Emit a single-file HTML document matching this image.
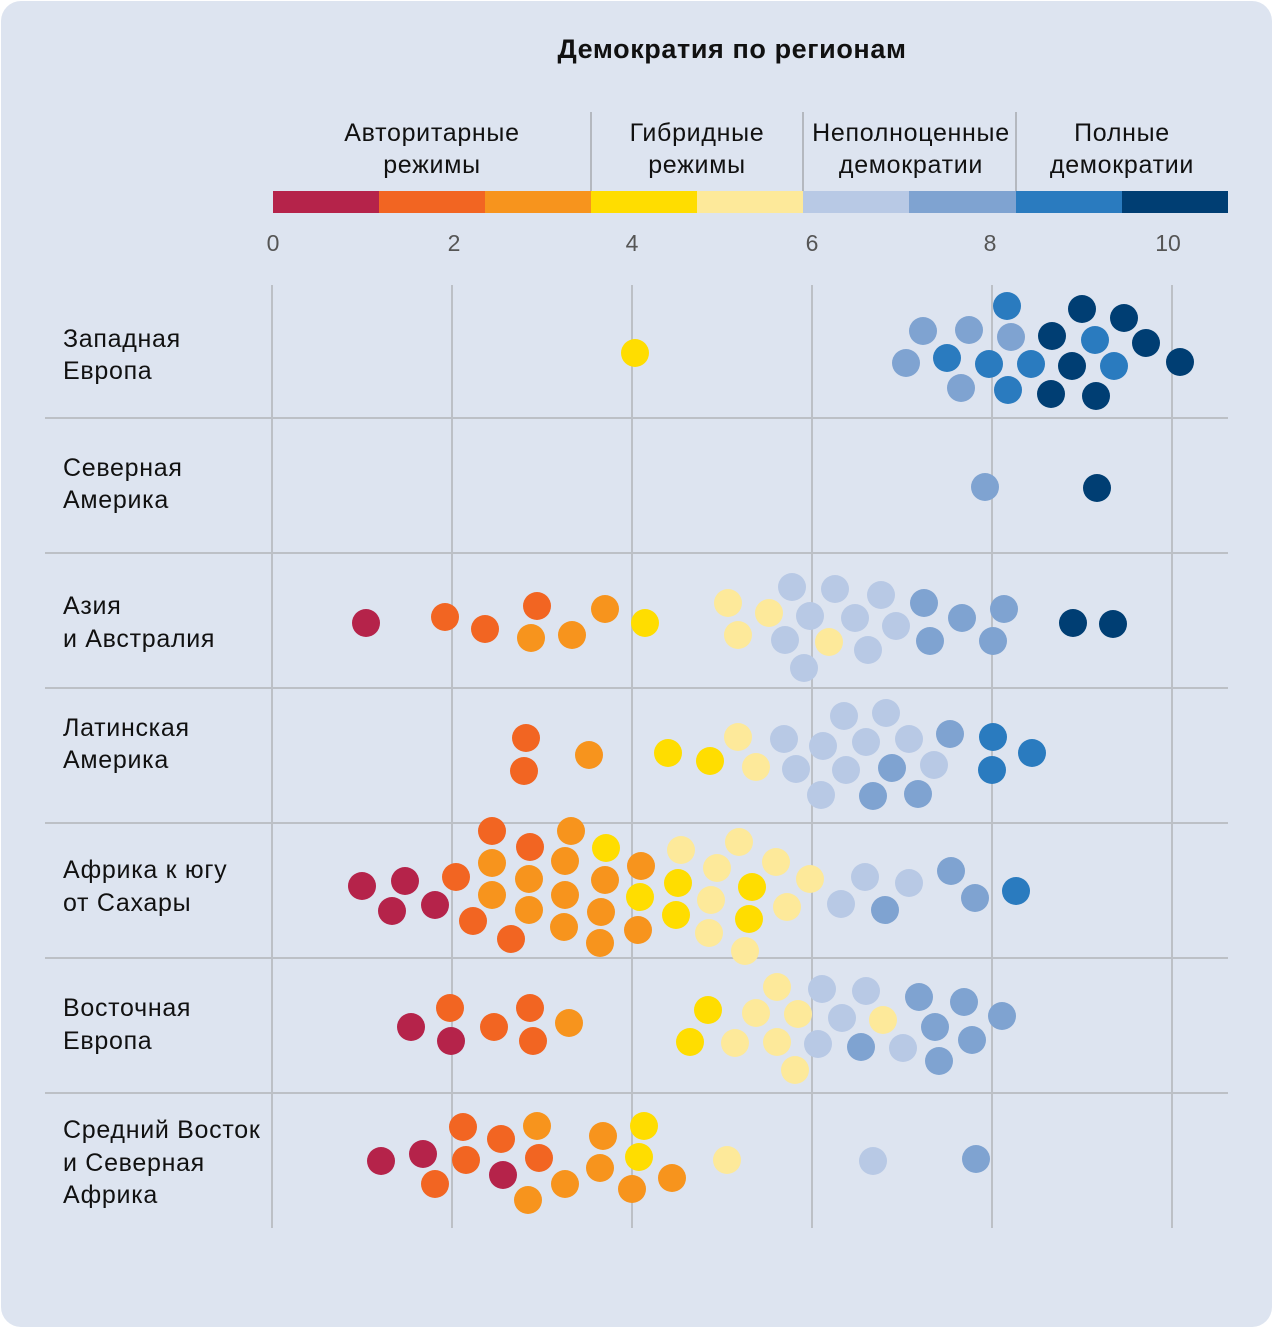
<!DOCTYPE html>
<html><head><meta charset="utf-8"><style>
html,body{margin:0;padding:0;background:#fff}
svg{display:block}
text{font-family:"Liberation Sans","DejaVu Sans",sans-serif;fill:#111}
</style></head><body>
<svg id="s" width="1273" height="1328" viewBox="0 0 1273 1328" xmlns="http://www.w3.org/2000/svg">
<rect x="1" y="1" width="1271" height="1326" rx="20" fill="#dde4f0"/>
<text x="732" y="58" text-anchor="middle" font-size="27" font-weight="bold" letter-spacing="0.6">Демократия по регионам</text>
<g font-size="25" text-anchor="middle" letter-spacing="0.7">
<text x="432" y="141">Авторитарные</text><text x="432" y="173">режимы</text>
<text x="697" y="141">Гибридные</text><text x="697" y="173">режимы</text>
<text x="911" y="141">Неполноценные</text><text x="911" y="173">демократии</text>
<text x="1122" y="141">Полные</text><text x="1122" y="173">демократии</text>
</g>
<g stroke="#b4b8bf" stroke-width="2">
<line x1="591" y1="112" x2="591" y2="191"/><line x1="803" y1="112" x2="803" y2="191"/><line x1="1016" y1="112" x2="1016" y2="191"/>
</g>
<rect x="273" y="191" width="106" height="22" fill="#b5234a"/>
<rect x="379" y="191" width="106" height="22" fill="#f26522"/>
<rect x="485" y="191" width="106" height="22" fill="#f7941d"/>
<rect x="591" y="191" width="106" height="22" fill="#ffdd00"/>
<rect x="697" y="191" width="106" height="22" fill="#fde99a"/>
<rect x="803" y="191" width="106" height="22" fill="#b8c9e5"/>
<rect x="909" y="191" width="107" height="22" fill="#7fa3d1"/>
<rect x="1016" y="191" width="106" height="22" fill="#2a7bbf"/>
<rect x="1122" y="191" width="106" height="22" fill="#003e73"/>
<g font-size="23" text-anchor="middle">
<text x="273" y="251" style="fill:#555">0</text><text x="454" y="251" style="fill:#555">2</text><text x="632" y="251" style="fill:#555">4</text><text x="812" y="251" style="fill:#555">6</text><text x="990" y="251" style="fill:#555">8</text><text x="1168" y="251" style="fill:#555">10</text>
</g>
<g stroke="#bcc0c6" stroke-width="2">
<line x1="272" y1="285" x2="272" y2="1228"/><line x1="452" y1="285" x2="452" y2="1228"/><line x1="632" y1="285" x2="632" y2="1228"/><line x1="812" y1="285" x2="812" y2="1228"/><line x1="992" y1="285" x2="992" y2="1228"/><line x1="1172" y1="285" x2="1172" y2="1228"/>
<line x1="45" y1="418" x2="1228" y2="418"/><line x1="45" y1="553" x2="1228" y2="553"/><line x1="45" y1="688" x2="1228" y2="688"/><line x1="45" y1="823" x2="1228" y2="823"/><line x1="45" y1="958" x2="1228" y2="958"/><line x1="45" y1="1093" x2="1228" y2="1093"/>
</g>
<g font-size="25" letter-spacing="0.7">
<text x="63" y="347">Западная</text><text x="63" y="379">Европа</text>
<text x="63" y="476">Северная</text><text x="63" y="508">Америка</text>
<text x="63" y="614">Азия</text><text x="63" y="647">и Австралия</text>
<text x="63" y="736">Латинская</text><text x="63" y="768">Америка</text>
<text x="63" y="878">Африка к югу</text><text x="63" y="911">от Сахары</text>
<text x="63" y="1016">Восточная</text><text x="63" y="1049">Европа</text>
<text x="63" y="1138">Средний Восток</text><text x="63" y="1171">и Северная</text><text x="63" y="1203">Африка</text>
</g>
<g id="d"></g>
</svg>
<script>
var C={a:"#b5234a",b:"#f26522",c:"#f7941d",d:"#ffdd00",e:"#fde99a",f:"#b8c9e5",g:"#7fa3d1",h:"#2a7bbf",i:"#003e73"};
var D={
d:[635,353,606,848,640,897,678,883,752,887,676,915,749,919,668,753,710,761,708,1010,690,1042,644,1126,639,1157,645,623],
g:[923,331,969,330,1011,337,906,363,961,388,985,487,924,603,962,618,1004,609,930,641,993,641,950,734,892,768,873,796,918,794,951,871,885,910,975,898,919,997,964,1002,1002,1016,935,1027,972,1040,861,1047,939,1061,976,1159],
h:[1007,306,947,358,989,364,1031,364,1095,340,1114,366,1008,390,993,737,992,770,1032,753,1016,891],
i:[1082,309,1124,318,1052,336,1146,343,1072,366,1180,362,1051,394,1096,396,1097,488,1073,623,1113,624],
a:[366,623,362,886,405,881,392,911,435,905,411,1027,451,1041,381,1161,423,1154,503,1175],
b:[445,617,485,629,537,606,526,738,524,771,456,877,473,921,511,939,492,831,530,847,450,1008,530,1008,494,1027,533,1041,463,1127,501,1139,466,1160,539,1158,435,1184],
c:[531,638,572,635,605,609,589,755,571,831,492,863,565,861,529,879,492,895,565,895,605,880,529,910,601,912,564,927,600,943,641,866,638,930,569,1023,537,1126,603,1136,600,1168,565,1184,528,1200,632,1189,672,1178],
e:[728,603,769,613,738,635,829,642,738,737,756,767,681,850,739,842,717,868,776,862,810,879,711,900,787,907,709,933,745,951,777,987,756,1013,798,1014,735,1043,777,1042,883,1020,795,1070,727,1160],
f:[792,587,835,589,881,595,810,616,855,618,896,626,785,640,868,650,804,668,784,739,844,716,886,713,823,746,866,742,909,739,796,769,846,770,934,765,821,795,865,877,909,883,841,904,822,989,866,991,842,1018,818,1044,903,1048,873,1161]
};
var s="";for(var k in D){var a=D[k];for(var j=0;j<a.length;j+=2)s+='<circle cx="'+a[j]+'" cy="'+a[j+1]+'" r="14" fill="'+C[k]+'"/>';}
document.getElementById("d").innerHTML=s;
</script>
</body></html>
